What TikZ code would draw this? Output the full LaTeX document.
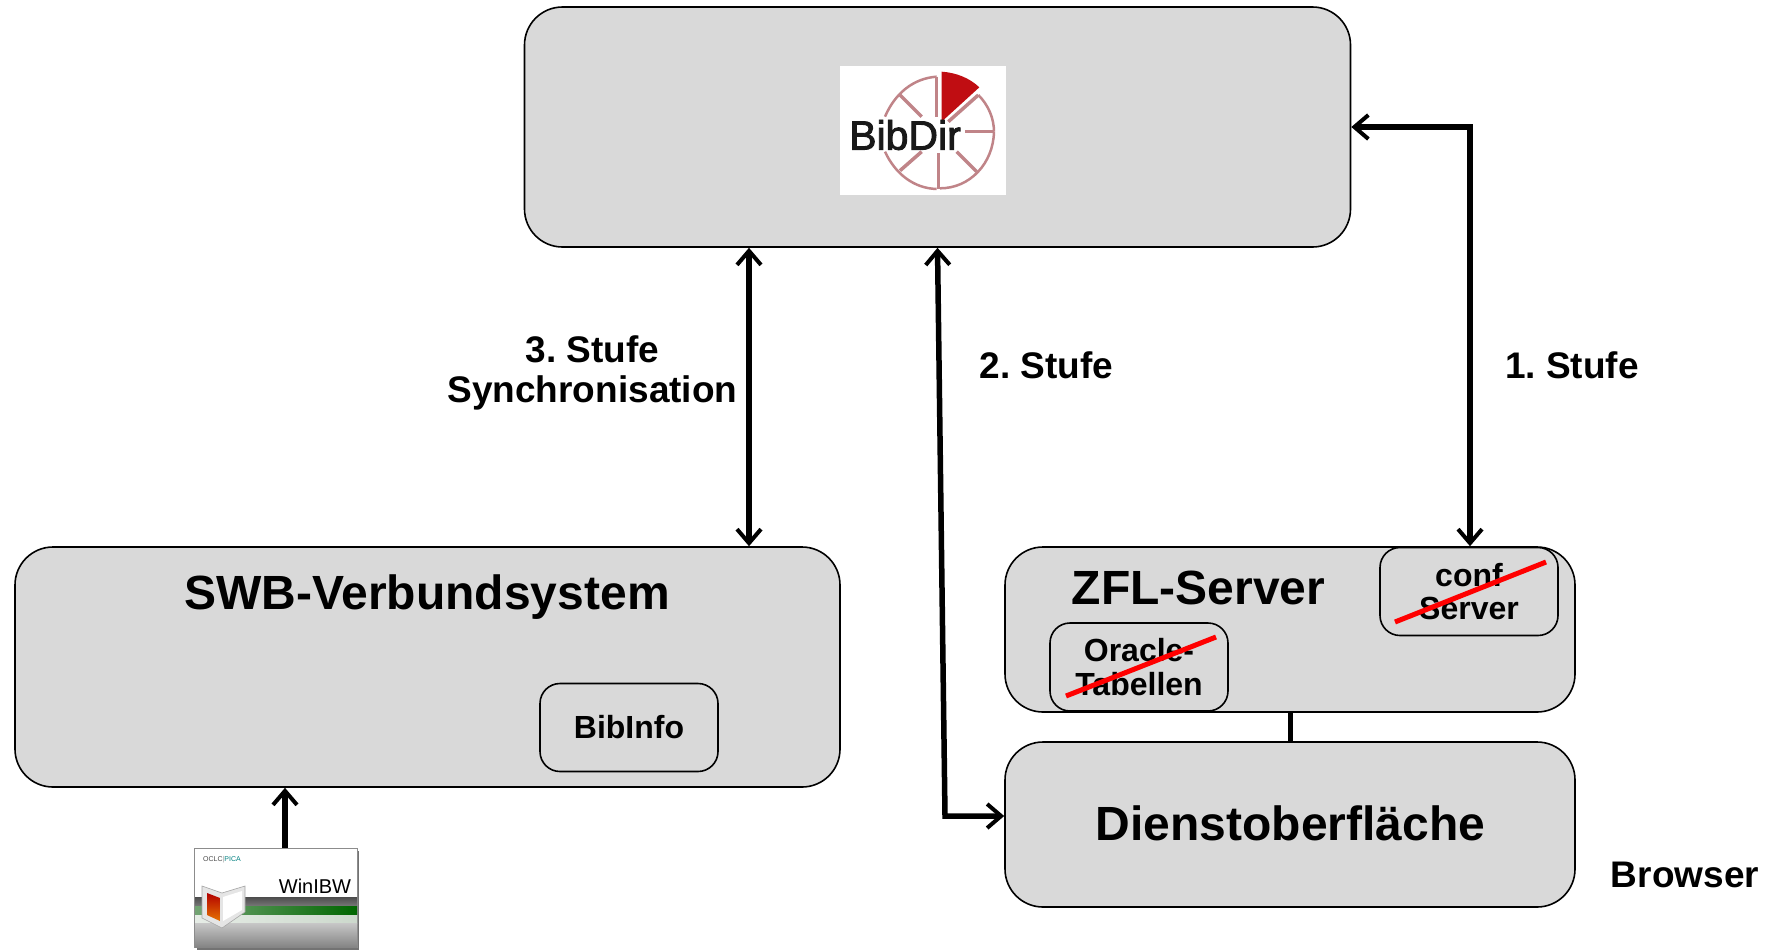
\documentclass[tikz,border=0pt]{standalone}
\usepackage{fontspec}
\setmainfont{Liberation Sans}
\newfontfamily\logofont[FakeBold=2.2]{Liberation Sans}
\usetikzlibrary{arrows.meta,calc}
\definecolor{boxgray}{HTML}{D9D9D9}
\definecolor{logopink}{HTML}{C08488}
\definecolor{logored}{HTML}{C00D12}
\tikzset{
  bigbox/.style={draw=black,line width=1.6pt,fill=boxgray,rounded corners=38pt,inner sep=0pt},
  smallbox/.style={draw=black,line width=1.6pt,fill=boxgray,rounded corners=20pt,inner sep=0pt,minimum width=178pt,minimum height=88pt,align=center,font=\bfseries\fontsize{32}{33.5}\selectfont},
  lbl/.style={font=\bfseries\fontsize{37}{40}\selectfont,align=center,inner sep=0pt},
  title/.style={font=\bfseries\fontsize{48}{52}\selectfont,inner sep=0pt},
  conn/.style={line width=5.5pt},
  both/.style={conn,{Straight Barb[length=14pt,width=24pt,line width=4pt]}-{Straight Barb[length=14pt,width=24pt,line width=4pt]}},
  onehead/.style={conn,-{Straight Barb[length=14pt,width=24pt,line width=4pt]}},
  strike/.style={draw=red,line width=5pt},
  spoke/.style={draw=logopink},
}
\begin{document}
\frenchspacing
\begin{tikzpicture}[x=1pt,y=-1pt]
\useasboundingbox (0,0) rectangle (1779,951);
\fill[white] (0,0) rectangle (1779,951);
% boxes
\node[bigbox,minimum width=826pt,minimum height=240pt] (bibdir) at (937.5,127) {};
\node[bigbox,minimum width=825pt,minimum height=240pt] (swb) at (427.5,667) {};
\node[bigbox,minimum width=570pt,minimum height=165pt] (zfl) at (1290,629.5) {};
\node[bigbox,minimum width=570pt,minimum height=165pt] (dienst) at (1290,824.5) {};
\node[smallbox] (bibinfo) at (629,727.5) {BibInfo};
\node[smallbox,text depth=0pt] (conf) at (1469,591.5) {conf\\Server};
\node[smallbox] (oracle) at (1139,667) {Oracle-\\Tabellen};
% titles
\node[title] (swbt) at (427,597) {SWB-Verbundsystem};
\node[title] (zflt) at (1198.5,588) {ZFL-Server};
\node[title] (diet) at (1290.5,823) {Dienstoberfläche};
\node[lbl] (l3) at (592.5,373) {3. Stufe\\Synchronisation};
\node[lbl] (l2) at (1046.5,365.5) {2. Stufe};
\node[lbl] (l1) at (1572,365.5) {1. Stufe};
\node[lbl] (lb) at (1685,875) {Browser};
% strikes
\coordinate (s1a) at (1395,622);\coordinate (s1b) at (1546,562);
\coordinate (s2a) at (1066,696);\coordinate (s2b) at (1216,637);
\draw[strike] (s1a) -- (s1b);
\draw[strike] (s2a) -- (s2b);
% connectors
\coordinate (c1b) at (1470,127);
\coordinate (x3) at (749,0);
\coordinate (x2) at (937.5,0);
\coordinate (x0) at (1290.5,0);
\draw[both] (bibdir.east|-c1b) -- (c1b) -- (c1b|-zfl.north);
\draw[both] (x3|-bibdir.south) -- (x3|-swb.north);
\coordinate (c2b) at (945,816);
\draw[both] (x2|-bibdir.south) -- (c2b) -- (dienst.west|-c2b);
\draw[line width=5.5pt] (x0|-zfl.south) -- (x0|-dienst.north);
% BibDir logo
\node[fill=white,inner sep=0pt,minimum width=166pt,minimum height=129pt] (logo) at (923,130.5) {};
\begin{scope}[shift={(800,40)},x=0.3333pt,y=-0.3333pt]
 \draw[spoke,line width=2.5pt] (410,110) .. controls (340,115) and (285,160) .. (255,230);
 \draw[spoke,line width=2.5pt] (255,335) .. controls (285,400) and (340,445) .. (410,447);
 \draw[spoke,line width=2.5pt] (420,445) .. controls (510,445) and (580,370) .. (582,275);
 \draw[spoke,line width=2.5pt] (582,275) .. controls (582,235) and (565,195) .. (535,165);
 \draw[spoke,line width=3.5pt] (410,110) -- (410,230);
 \draw[spoke,line width=3.5pt] (300,165) -- (365,230);
 \draw[spoke,line width=3.5pt] (300,392) -- (365,335);
 \draw[spoke,line width=3.5pt] (415,340) -- (415,447);
 \draw[spoke,line width=3.5pt] (470,335) -- (530,395);
 \draw[spoke,line width=3.5pt] (445,245) -- (535,165);
 \draw[spoke,line width=3.5pt] (495,275) -- (582,275);
 \fill[logored] (425,245) -- (425,95) .. controls (470,98) and (510,115) .. (538,142) -- cycle;
\end{scope}
\node[inner sep=0pt,font=\logofont\fontsize{41}{45}\selectfont,text=black!90] (logot) at (905,135) {BibDir};
% WinIBW
\coordinate (w1) at (285,848);
\draw[onehead] (w1) -- (swb.south-|w1);
\fill[black!55] (197,851) rectangle (359,950);
\node[inner sep=0pt,minimum width=163pt,minimum height=99pt,fill=white,draw=black!45,line width=0.8pt] (win) at (275.5,897.5) {};
\shade[top color=black!70,bottom color=black!55] (195,897) rectangle (357,905);
\shade[left color=green!35!black!55,right color=green!40!black] (195,906) rectangle (357,914);
\shade[left color=green!25!black!10,right color=green!25!black!20] (195,915) rectangle (357,923);
\shade[top color=black!22,bottom color=black!48] (195,923) rectangle (357,947);
\node[inner sep=0pt,font=\fontsize{7}{8}\selectfont,text=black!70] (oclc) at (222,860) {OCLC\textcolor{black!40}{|}\textcolor{teal}{PICA}};
\node[inner sep=0pt,font=\fontsize{20}{22}\selectfont] (wint) at (315,886) {WinIBW};
\filldraw[fill=black!10,draw=black!35,line width=0.6pt] (202,886) -- (222,893) -- (245,886) -- (245,912) -- (222,928) -- (202,918) -- cycle;
\fill[white] (223,897) -- (242,891) -- (242,910) -- (223,921) -- cycle;
\shade[top color=red!70!black,bottom color=orange!90!black] (207,893) -- (220,898) -- (220,921) -- (207,915) -- cycle;
\end{tikzpicture}
\end{document}
